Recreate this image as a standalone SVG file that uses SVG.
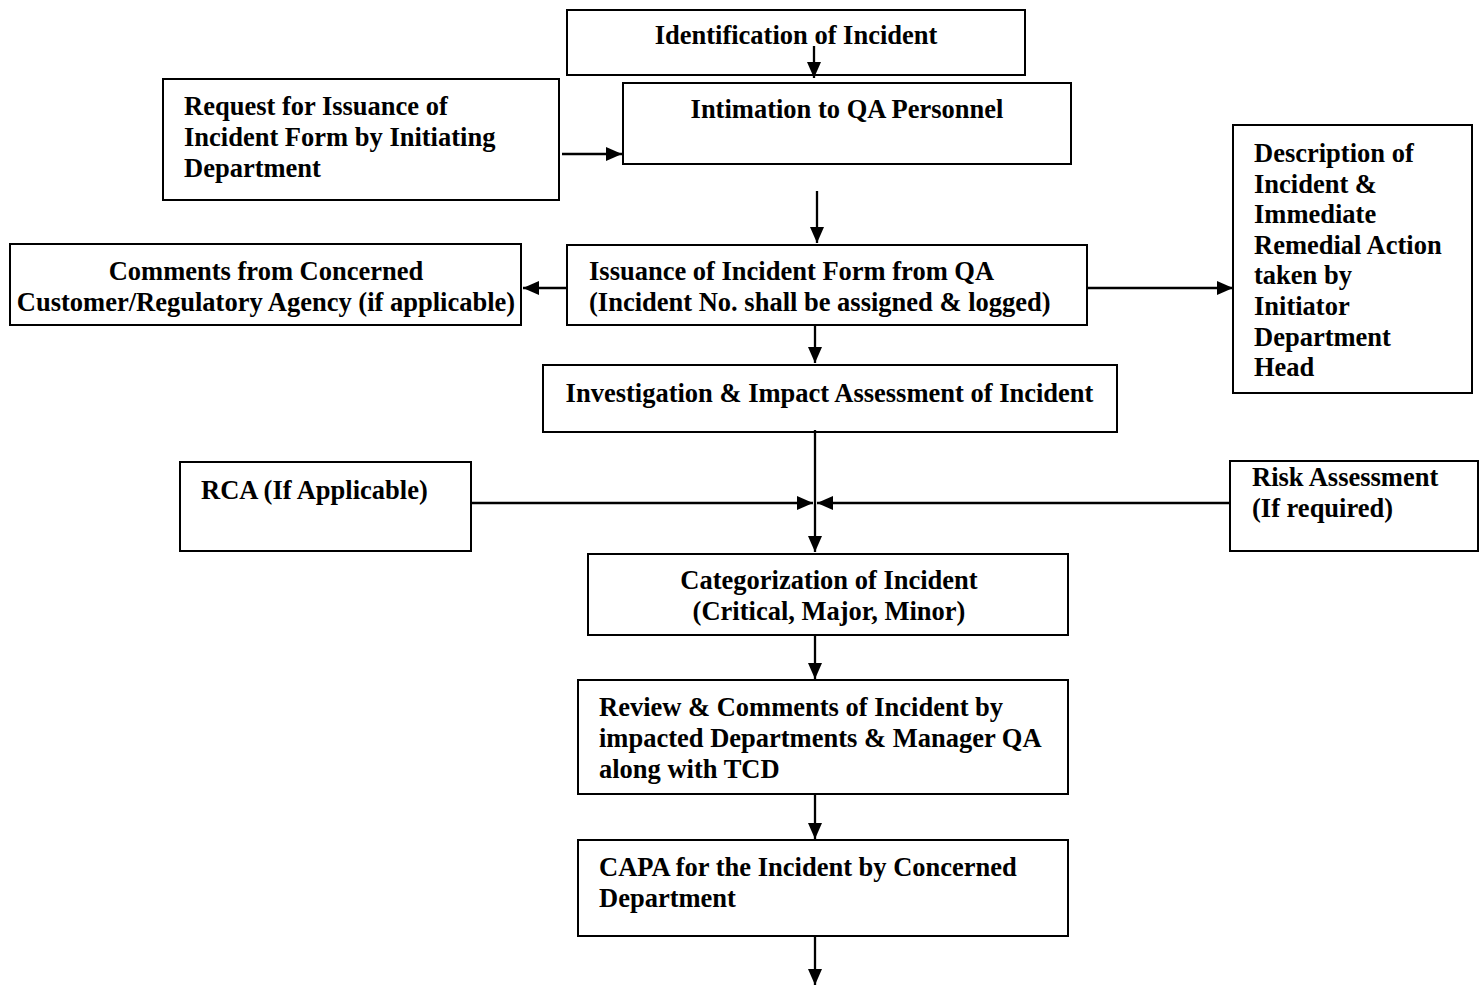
<svg xmlns="http://www.w3.org/2000/svg" width="1482" height="986" viewBox="0 0 1482 986">
<style>
.box{fill:#fff;stroke:#000;stroke-width:2}
text{font-family:"Liberation Serif","Times New Roman",serif;font-weight:bold;font-size:26.5px;fill:#000}
.c{text-anchor:middle}
.conn line{stroke:#000;stroke-width:2.3;marker-end:url(#ah)}
</style>
<defs>
<marker id="ah" markerUnits="userSpaceOnUse" markerWidth="16" markerHeight="16" refX="16" refY="8" orient="auto">
<path d="M0,1 L16,8 L0,15 z" fill="#000"/>
</marker>
</defs>
<rect width="1482" height="986" fill="#fff"/>
<g id="identification"><rect class="box" x="567" y="10" width="458" height="65"/><text class="c" x="796" y="44">Identification of Incident</text></g>
<g id="intimation"><rect class="box" x="623" y="83" width="448" height="81"/><text class="c" x="847" y="118">Intimation to QA Personnel</text></g>
<g id="request"><rect class="box" x="163" y="79" width="396" height="121"/><text x="184" y="115">Request for Issuance of</text><text x="184" y="146">Incident Form by Initiating</text><text x="184" y="177">Department</text></g>
<g id="comments"><rect class="box" x="10" y="244" width="511" height="81"/><text class="c" x="266" y="280">Comments from Concerned</text><text class="c" x="266" y="311">Customer/Regulatory Agency (if applicable)</text></g>
<g id="issuance"><rect class="box" x="567" y="245" width="520" height="80"/><text x="589" y="280">Issuance of Incident Form from QA</text><text x="589" y="311">(Incident No. shall be assigned &amp; logged)</text></g>
<g id="description"><rect class="box" x="1233" y="125" width="239" height="268"/><text x="1254" y="162">Description of</text><text x="1254" y="192.6">Incident &amp;</text><text x="1254" y="223.2">Immediate</text><text x="1254" y="253.8">Remedial Action</text><text x="1254" y="284.4">taken by</text><text x="1254" y="315">Initiator</text><text x="1254" y="345.6">Department</text><text x="1254" y="376.2">Head</text></g>
<g id="investigation"><rect class="box" x="543" y="365" width="574" height="67"/><text class="c" x="829.5" y="402">Investigation &amp; Impact Assessment of Incident</text></g>
<g id="rca"><rect class="box" x="180" y="462" width="291" height="89"/><text x="201" y="499">RCA (If Applicable)</text></g>
<g id="risk"><rect class="box" x="1230" y="461" width="248" height="90"/><text x="1252" y="486">Risk Assessment</text><text x="1252" y="517">(If required)</text></g>
<g id="categorization"><rect class="box" x="588" y="554" width="480" height="81"/><text class="c" x="829" y="589">Categorization of Incident</text><text class="c" x="829" y="620">(Critical, Major, Minor)</text></g>
<g id="review"><rect class="box" x="578" y="680" width="490" height="114"/><text x="599" y="716">Review &amp; Comments of Incident by</text><text x="599" y="747">impacted Departments &amp; Manager QA</text><text x="599" y="778">along with TCD</text></g>
<g id="capa"><rect class="box" x="578" y="840" width="490" height="96"/><text x="599" y="876">CAPA for the Incident by Concerned</text><text x="599" y="907">Department</text></g>
<g id="connectors" class="conn">
<line x1="814" y1="46" x2="814" y2="78"/>
<line x1="562" y1="154" x2="622" y2="154"/>
<line x1="817" y1="191" x2="817" y2="243"/>
<line x1="567" y1="288" x2="523" y2="288"/>
<line x1="1087" y1="288" x2="1233" y2="288"/>
<line x1="815" y1="326" x2="815" y2="363"/>
<line x1="815" y1="430" x2="815" y2="552"/>
<line x1="472" y1="503" x2="813" y2="503"/>
<line x1="1230" y1="503" x2="817" y2="503"/>
<line x1="815" y1="636" x2="815" y2="679"/>
<line x1="815" y1="795" x2="815" y2="839"/>
<line x1="815" y1="937" x2="815" y2="985"/>
</g>
</svg>
